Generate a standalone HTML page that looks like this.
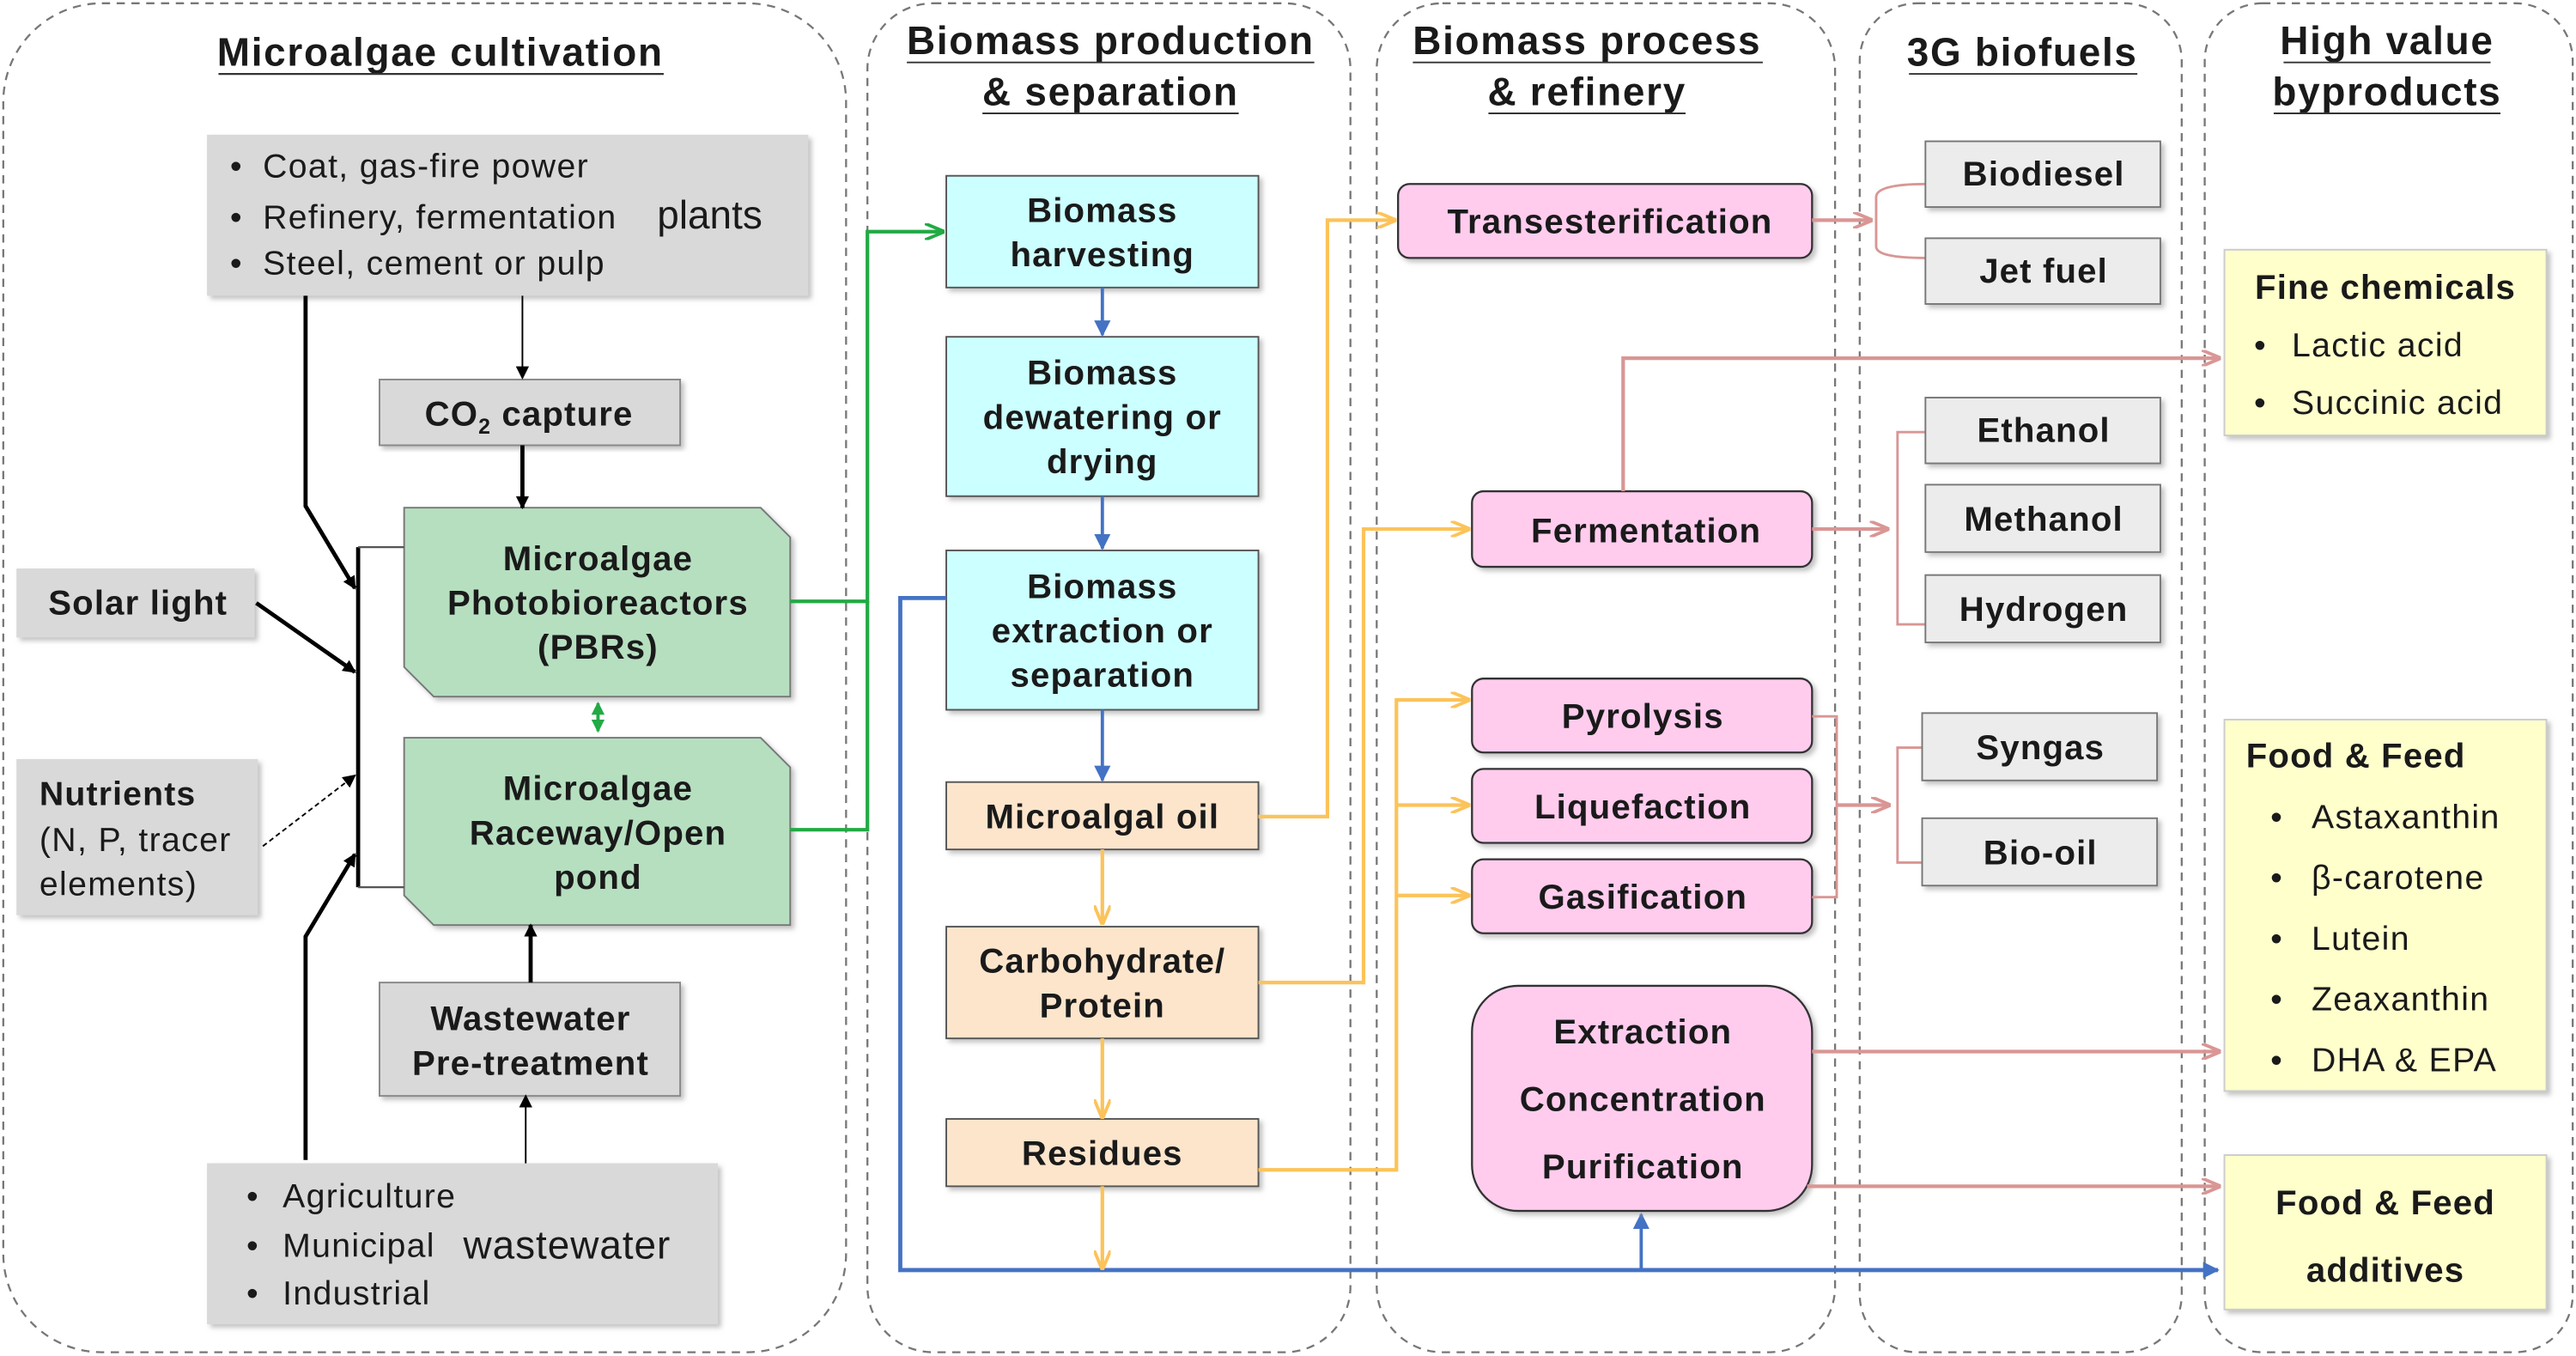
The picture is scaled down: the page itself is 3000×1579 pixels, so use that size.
<!DOCTYPE html>
<html><head><meta charset="utf-8"><style>
html,body{margin:0;padding:0;background:#fff;}
svg{display:block;}
text{font-family:"Liberation Sans",Arial,sans-serif;fill:#1a1a1a;}
.t{font-size:21px;font-weight:bold;text-anchor:middle;letter-spacing:0.6px;}
.h{font-size:24px;font-weight:bold;text-anchor:middle;letter-spacing:0.9px;}
.n{font-size:20.5px;letter-spacing:0.7px;}
</style></head><body>
<svg width="3000" height="1579" viewBox="0 0 1568 825.3" preserveAspectRatio="none" xmlns="http://www.w3.org/2000/svg">
<defs>
<marker id="ak" markerWidth="8" markerHeight="8" refX="7" refY="4" orient="auto" markerUnits="userSpaceOnUse"><path d="M0,0 L8,4 L0,8 z" fill="#000"/></marker>
<marker id="ab" markerWidth="10" markerHeight="10" refX="9" refY="5" orient="auto" markerUnits="userSpaceOnUse"><path d="M0,0 L10,5 L0,10 z" fill="#4472c4"/></marker>
<marker id="ag" markerWidth="12" markerHeight="10" refX="11" refY="5" orient="auto" markerUnits="userSpaceOnUse"><path d="M0,0 L12,5 L0,10" fill="none" stroke="#22aa44" stroke-width="2"/></marker>
<marker id="agf" markerWidth="8" markerHeight="8" refX="7" refY="4" orient="auto-start-reverse" markerUnits="userSpaceOnUse"><path d="M0,0 L8,4 L0,8 z" fill="#22aa44"/></marker>
<marker id="ay" markerWidth="12" markerHeight="10" refX="11" refY="5" orient="auto" markerUnits="userSpaceOnUse"><path d="M0,0 L12,5 L0,10" fill="none" stroke="#fcc35a" stroke-width="2"/></marker>
<marker id="ap" markerWidth="12" markerHeight="10" refX="11" refY="5" orient="auto" markerUnits="userSpaceOnUse"><path d="M0,0 L12,5 L0,10" fill="none" stroke="#d99694" stroke-width="2"/></marker>
<filter id="sh"><feDropShadow dx="2" dy="2" stdDeviation="1.5" flood-color="#999" flood-opacity="0.6"/></filter>
</defs>
<g fill="none" stroke="#777" stroke-width="1.2" stroke-dasharray="5,4">
<rect x="2" y="2" width="513" height="821" rx="60"/>
<rect x="528" y="2" width="294" height="821" rx="40"/>
<rect x="838" y="2" width="279" height="821" rx="40"/>
<rect x="1132" y="2" width="196" height="821" rx="35"/>
<rect x="1342" y="2" width="224" height="821" rx="35"/>
</g>
<text class="h" x="268" y="40">Microalgae cultivation</text><line x1="133" y1="45" x2="404" y2="45" stroke="#333" stroke-width="1.2"/>
<text class="h" x="676" y="33">Biomass production</text><line x1="552" y1="38" x2="800" y2="38" stroke="#333"/>
<text class="h" x="676" y="64">&amp; separation</text><line x1="598" y1="69" x2="754" y2="69" stroke="#333"/>
<text class="h" x="966" y="33">Biomass process</text><line x1="860" y1="38" x2="1073" y2="38" stroke="#333"/>
<text class="h" x="966" y="64">&amp; refinery</text><line x1="906" y1="69" x2="1026" y2="69" stroke="#333"/>
<text class="h" x="1231" y="40">3G biofuels</text><line x1="1162" y1="45" x2="1301" y2="45" stroke="#333"/>
<text class="h" x="1453" y="33">High value</text><line x1="1390" y1="38" x2="1516" y2="38" stroke="#333"/>
<text class="h" x="1453" y="64">byproducts</text><line x1="1384" y1="69" x2="1522" y2="69" stroke="#333"/>

<g filter="url(#sh)">
<rect x="126" y="82" width="366" height="98" fill="#d9d9d9"/>
<rect x="126" y="708" width="311" height="98" fill="#d9d9d9"/>
<rect x="10" y="346" width="145" height="42" fill="#d9d9d9"/>
<rect x="10" y="462" width="147" height="95" fill="#d9d9d9"/>
</g>
<rect x="231" y="231" width="183" height="40" fill="#d9d9d9" stroke="#888" filter="url(#sh)"/>
<rect x="231" y="598" width="183" height="69" fill="#d9d9d9" stroke="#888" filter="url(#sh)"/>
<polygon points="246,309 463,309 481,327 481,424 264,424 246,406" fill="#b6dfc0" stroke="#777" filter="url(#sh)"/>
<polygon points="246,449 463,449 481,467 481,563 264,563 246,545" fill="#b6dfc0" stroke="#777" filter="url(#sh)"/>
<text x="140" y="108" class="n">•</text><text x="160" y="108" class="n">Coat, gas-fire power</text>
<text x="140" y="139" class="n">•</text><text x="160" y="139" class="n">Refinery, fermentation</text>
<text x="140" y="167" class="n">•</text><text x="160" y="167" class="n">Steel, cement or pulp</text>
<text x="400" y="139" style="font-size:24px">plants</text>
<text x="150" y="735" class="n">•</text><text x="172" y="735" class="n">Agriculture</text>
<text x="150" y="765" class="n">•</text><text x="172" y="765" class="n">Municipal</text>
<text x="150" y="794" class="n">•</text><text x="172" y="794" class="n">Industrial</text>
<text x="282" y="766" style="font-size:24px;letter-spacing:0.5px">wastewater</text>
<text class="t" x="84" y="374">Solar light</text>
<text x="24" y="490" style="font-size:20.5px;font-weight:bold;letter-spacing:0.6px">Nutrients</text>
<text x="24" y="518" class="n">(N, P, tracer</text>
<text x="24" y="545" class="n">elements)</text>
<text class="t" x="322" y="259">CO<tspan font-size="13" dy="5">2</tspan><tspan dy="-5"> capture</tspan></text>
<text class="t" x="323" y="627">Wastewater</text><text class="t" x="323" y="654">Pre-treatment</text>
<text class="t" x="364" y="347">Microalgae</text><text class="t" x="364" y="374">Photobioreactors</text><text class="t" x="364" y="401">(PBRs)</text>
<text class="t" x="364" y="487">Microalgae</text><text class="t" x="364" y="514">Raceway/Open</text><text class="t" x="364" y="541">pond</text>
<g stroke="#000" fill="none" stroke-width="2.5">
<polyline points="218,333 218,540"/><line x1="218" y1="333" x2="246" y2="333" stroke-width="1.2" stroke="#555"/><line x1="218" y1="540" x2="246" y2="540" stroke-width="1.2" stroke="#555"/>
<polyline points="186,180 186,308 216,358" marker-end="url(#ak)"/>
<line x1="156" y1="367" x2="216" y2="409" marker-end="url(#ak)"/>
<line x1="160" y1="515" x2="216" y2="472" stroke-width="1" stroke-dasharray="3,2" marker-end="url(#ak)"/>
<polyline points="186,706 186,570 216,520" marker-end="url(#ak)"/>
<line x1="318" y1="180" x2="318" y2="230" stroke-width="1" marker-end="url(#ak)"/>
<line x1="318" y1="271" x2="318" y2="309" marker-end="url(#ak)"/>
<line x1="323" y1="598" x2="323" y2="563" marker-end="url(#ak)"/>
<line x1="320" y1="708" x2="320" y2="667" stroke-width="1" marker-end="url(#ak)"/>
</g>
<line x1="364" y1="428" x2="364" y2="445" stroke="#22aa44" stroke-width="2" marker-start="url(#agf)" marker-end="url(#agf)"/>
<polyline points="481,366 528,366 528,141 574,141" fill="none" stroke="#22aa44" stroke-width="2.2" marker-end="url(#ag)"/>
<polyline points="481,505 528,505 528,366" fill="none" stroke="#22aa44" stroke-width="2.2"/>

<g stroke="#555" stroke-width="1" filter="url(#sh)">
<rect x="576" y="107" width="190" height="68" fill="#ccffff"/>
<rect x="576" y="205" width="190" height="97" fill="#ccffff"/>
<rect x="576" y="335" width="190" height="97" fill="#ccffff"/>
<rect x="576" y="476" width="190" height="41" fill="#fde5cc"/>
<rect x="576" y="564" width="190" height="68" fill="#fde5cc"/>
<rect x="576" y="681" width="190" height="41" fill="#fde5cc"/>
</g>
<text class="t" x="671" y="135">Biomass</text><text class="t" x="671" y="162">harvesting</text>
<text class="t" x="671" y="234">Biomass</text><text class="t" x="671" y="261">dewatering or</text><text class="t" x="671" y="288">drying</text>
<text class="t" x="671" y="364">Biomass</text><text class="t" x="671" y="391">extraction or</text><text class="t" x="671" y="418">separation</text>
<text class="t" x="671" y="504">Microalgal oil</text>
<text class="t" x="671" y="592">Carbohydrate/</text><text class="t" x="671" y="619">Protein</text>
<text class="t" x="671" y="709">Residues</text>
<g stroke="#4472c4" stroke-width="2" fill="none">
<line x1="671" y1="175" x2="671" y2="204" marker-end="url(#ab)"/>
<line x1="671" y1="302" x2="671" y2="334" marker-end="url(#ab)"/>
<line x1="671" y1="432" x2="671" y2="475" marker-end="url(#ab)"/>
<polyline points="576,364 548,364 548,773 1350,773" stroke-width="2.5" marker-end="url(#ab)"/>
<line x1="999" y1="773" x2="999" y2="739" marker-end="url(#ab)"/>
</g>
<g stroke="#fcc35a" stroke-width="2.2" fill="none">
<line x1="671" y1="517" x2="671" y2="562" marker-end="url(#ay)"/>
<line x1="671" y1="632" x2="671" y2="680" marker-end="url(#ay)"/>
<line x1="671" y1="722" x2="671" y2="772" marker-end="url(#ay)"/>
<polyline points="766,497 808,497 808,134 849,134" marker-end="url(#ay)"/>
<polyline points="766,598 830,598 830,322 894,322" marker-end="url(#ay)"/>
<polyline points="766,712 850,712 850,426 894,426" marker-end="url(#ay)"/>
<line x1="850" y1="490" x2="894" y2="490" marker-end="url(#ay)"/>
<line x1="850" y1="545" x2="894" y2="545" marker-end="url(#ay)"/>
</g>

<g stroke="#333" stroke-width="1.2" fill="#ffccee" filter="url(#sh)">
<rect x="851" y="112" width="252" height="45" rx="7"/>
<rect x="896" y="299" width="207" height="46" rx="7"/>
<rect x="896" y="413" width="207" height="45" rx="7"/>
<rect x="896" y="468" width="207" height="45" rx="7"/>
<rect x="896" y="523" width="207" height="45" rx="7"/>
<rect x="896" y="600" width="207" height="137" rx="28"/>
</g>
<text class="t" x="980" y="142">Transesterification</text>
<text class="t" x="1002" y="330">Fermentation</text>
<text class="t" x="1000" y="443">Pyrolysis</text>
<text class="t" x="1000" y="498">Liquefaction</text>
<text class="t" x="1000" y="553">Gasification</text>
<text class="t" x="1000" y="635">Extraction</text>
<text class="t" x="1000" y="676">Concentration</text>
<text class="t" x="1000" y="717">Purification</text>
<g stroke="#d99694" stroke-width="2.2" fill="none">
<line x1="1103" y1="134" x2="1139" y2="134" marker-end="url(#ap)"/>
<path d="M1172,112 Q1142,112 1142,120 L1142,150 Q1142,157 1172,157" stroke-width="1.5"/>
<line x1="1103" y1="322" x2="1149" y2="322" marker-end="url(#ap)"/>
<path d="M1172,263 L1155,263 L1155,380 L1172,380" stroke-width="1.5"/>
<polyline points="988,299 988,218 1351,218" marker-end="url(#ap)"/>
<polyline points="1103,436 1118,436 1118,546 1103,546" stroke-width="1.5"/>
<line x1="1118" y1="490" x2="1150" y2="490" marker-end="url(#ap)"/>
<path d="M1170,455 L1155,455 L1155,525 L1170,525" stroke-width="1.5"/>
<line x1="1103" y1="640" x2="1351" y2="640" marker-end="url(#ap)"/>
<line x1="1100" y1="722" x2="1351" y2="722" marker-end="url(#ap)"/>
</g>

<g fill="#ececec" stroke="#777" stroke-width="1" filter="url(#sh)">
<rect x="1172" y="86" width="143" height="40"/>
<rect x="1172" y="145" width="143" height="40"/>
<rect x="1172" y="242" width="143" height="40"/>
<rect x="1172" y="295" width="143" height="41"/>
<rect x="1172" y="350" width="143" height="41"/>
<rect x="1170" y="434" width="143" height="41"/>
<rect x="1170" y="498" width="143" height="41"/>
</g>
<text class="t" x="1244" y="113">Biodiesel</text>
<text class="t" x="1244" y="172">Jet fuel</text>
<text class="t" x="1244" y="269">Ethanol</text>
<text class="t" x="1244" y="323">Methanol</text>
<text class="t" x="1244" y="378">Hydrogen</text>
<text class="t" x="1242" y="462">Syngas</text>
<text class="t" x="1242" y="526">Bio-oil</text>

<g fill="#ffffcc" stroke="#ccc" stroke-width="1" filter="url(#sh)">
<rect x="1354" y="152" width="196" height="113"/>
<rect x="1354" y="438" width="196" height="226"/>
<rect x="1354" y="703" width="196" height="94"/>
</g>
<text class="t" x="1452" y="182">Fine chemicals</text>
<text class="n" x="1372" y="217">•</text><text class="n" x="1395" y="217">Lactic acid</text>
<text class="n" x="1372" y="252">•</text><text class="n" x="1395" y="252">Succinic acid</text>
<text class="t" x="1434" y="467">Food &amp; Feed</text>
<text class="n" x="1382" y="504">•</text><text class="n" x="1407" y="504">Astaxanthin</text>
<text class="n" x="1382" y="541">•</text><text class="n" x="1407" y="541">β-carotene</text>
<text class="n" x="1382" y="578">•</text><text class="n" x="1407" y="578">Lutein</text>
<text class="n" x="1382" y="615">•</text><text class="n" x="1407" y="615">Zeaxanthin</text>
<text class="n" x="1382" y="652">•</text><text class="n" x="1407" y="652">DHA &amp; EPA</text>
<text class="t" x="1452" y="739">Food &amp; Feed</text>
<text class="t" x="1452" y="780">additives</text>
</svg>
</body></html>
